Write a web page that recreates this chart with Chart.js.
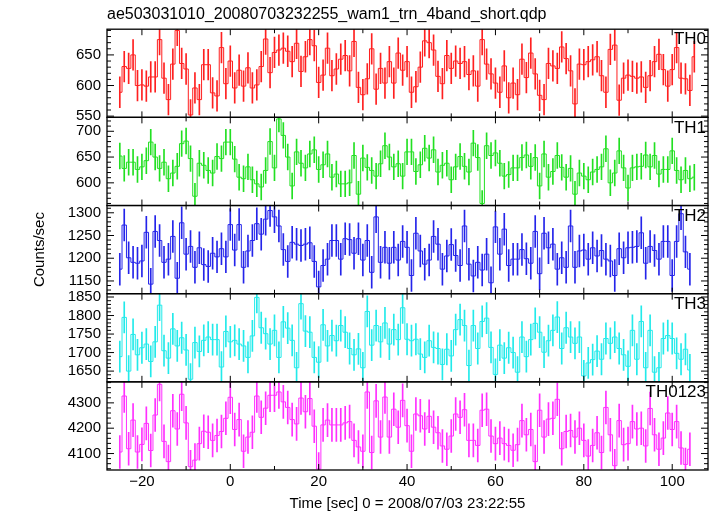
<!DOCTYPE html>
<html>
<head>
<meta charset="utf-8">
<script src="https://cdn.jsdelivr.net/npm/chart.js@4.4.0/dist/chart.umd.min.js"></script>
<style>
  html, body { margin: 0; padding: 0; background: #fff; }
</style>
</head>
<body>
<canvas id="lc" width="717" height="516"></canvas>
<script>
// WAM light curve, 1 s bins, first bin centre at -25 s
var timeStart = -25;
var binSize = 1;

var rateTH0 = [589,631,628,650,600,601,599,614,614,675,612,577,635,690,636,627,552,596,577,634,
  634,588,583,662,603,640,596,625,599,629,596,601,631,676,621,654,658,661,656,639,
  669,623,647,675,665,605,617,661,616,627,643,649,624,672,597,585,611,660,594,628,
  604,639,604,653,625,639,
  589,598,630,673,670,658,615,603,649,628,640,636,639,618,624,599,675,635,619,604,
  589,632,580,604,585,643,613,653,619,584,577,636,632,628,663,644,624,570,635,634,
  639,642,647,616,589,659,666,576,612,617,615,612,614,597,616,639,651,626,599,626,
  662,612,611,592,647];

var rateTH1 = [652,628,640,640,626,631,643,679,650,628,640,608,619,632,676,681,647,574,638,634,
  624,619,651,647,679,679,646,611,608,631,606,598,592,624,680,629,724,692,650,594,
  660,638,629,656,664,626,635,656,611,617,598,598,600,653,578,648,630,624,613,637,
  672,650,631,637,613,660,
  660,622,635,667,648,664,621,634,638,606,631,651,632,621,677,649,560,672,653,658,
  638,613,616,629,629,649,654,632,649,594,656,611,622,653,630,611,628,578,619,613,
  606,621,626,631,666,600,619,662,629,590,629,631,632,654,631,653,617,626,626,662,
  624,606,624,608,611];

var rateTH2 = [1176,1273,1201,1191,1189,1194,1257,1143,1259,1239,1191,1198,1248,1156,1278,1209,1226,1180,1223,1186,
  1182,1211,1203,1221,1203,1274,1218,1274,1180,1216,1239,1276,1253,1286,1305,1291,1271,1219,1193,1235,
  1231,1228,1231,1234,1193,1137,1184,1198,1239,1239,1198,1243,1241,1211,1243,1196,1239,1169,1291,1191,
  1224,1189,1224,1196,1237,1224,
  1162,1255,1216,1187,1196,1248,1231,1176,1205,1230,1206,1184,1271,1187,1161,1191,1174,1209,1146,1269,
  1209,1264,1184,1198,1198,1219,1199,1189,1259,1166,1255,1223,1231,1176,1201,1180,1271,1180,1216,1218,
  1198,1223,1205,1217,1198,1194,1162,1221,1201,1223,1224,1226,1256,1189,1226,1217,1198,1237,1237,1162,
  1237,1298,1214,1176];

var rateTH3 = [1689,1795,1650,1749,1694,1713,1723,1676,1729,1828,1705,1685,1764,1718,1740,1707,1628,1727,1703,1733,
  1742,1735,1735,1661,1757,1729,1733,1723,1718,1687,1745,1849,1767,1751,1723,1760,1687,1783,1766,1733,
  1659,1832,1758,1755,1687,1674,1775,1718,1746,1732,1773,1755,1711,1694,1710,1659,1811,1720,1773,1729,
  1780,1723,1762,1735,1821,1736,
  1732,1736,1696,1687,1732,1714,1711,1668,1709,1691,1762,1789,1773,1665,1773,1711,1784,1793,1714,1641,
  1720,1685,1713,1700,1647,1742,1689,1735,1779,1755,1701,1732,1760,1796,1711,1767,1742,1725,1742,1637,
  1672,1681,1704,1682,1738,1725,1742,1711,1694,1663,1760,1682,1784,1659,1760,1647,1659,1738,1746,1738,
  1698,1682,1709,1653];

var rateTH0123 = [4106,4327,4119,4232,4106,4136,4219,4112,4252,4373,4148,4068,4269,4197,4334,4221,4048,4074,4139,4188,
  4184,4152,4171,4187,4239,4322,4195,4234,4109,4165,4184,4327,4243,4279,4330,4330,4343,4304,4282,4234,
  4217,4319,4265,4317,4208,4039,4213,4232,4213,4213,4213,4221,4226,4152,4126,4109,4343,4104,4308,4165,
  4323,4165,4275,4204,4310,4210,
  4109,4256,4249,4197,4247,4204,4182,4130,4117,4169,4256,4243,4273,4152,4152,4132,4271,4275,4169,4139,
  4161,4139,4132,4113,4135,4230,4174,4195,4068,4271,4165,4236,4239,4314,4119,4187,4191,4165,4200,4152,
  4090,4132,4182,4104,4282,4174,4052,4230,4135,4139,4226,4197,4200,4130,4278,4174,4117,4161,4260,4195,
  4226,4122,4057,4117];

// half length of the error bars
var errTH0 = 25, errTH1 = 25, errTH2 = 35, errTH3 = 42, errTH0123 = 65;

var bandNames = ['TH0', 'TH1', 'TH2', 'TH3', 'TH0123'];
var yTicksMajor = [50, 50, 50, 50, 100];
var yTicksMinor = [10, 10, 10, 10, 20];

var font = '"Liberation Sans", Arial, Helvetica, sans-serif';

var bands = [
  {name: bandNames[0], axis: 'y0', rate: rateTH0,    err: errTH0,    color: '#ff2020', min: 548,  max: 692},
  {name: bandNames[1], axis: 'y1', rate: rateTH1,    err: errTH1,    color: '#22e022', min: 556,  max: 727},
  {name: bandNames[2], axis: 'y2', rate: rateTH2,    err: errTH2,    color: '#2424ea', min: 1122, max: 1316},
  {name: bandNames[3], axis: 'y3', rate: rateTH3,    err: errTH3,    color: '#22eaea', min: 1621, max: 1859},
  {name: bandNames[4], axis: 'y4', rate: rateTH0123, err: errTH0123, color: '#ff30ff', min: 4035, max: 4383}
];

function points(rate) {
  return rate.map(function (v, i) { return {x: timeStart + i * binSize, y: v}; });
}

var datasets = [];
bands.forEach(function (b) {
  var pts = points(b.rate);
  datasets.push({
    type: 'bar',
    yAxisID: b.axis,
    data: pts.map(function (p) { return {x: p.x, y: [p.y - b.err, p.y + b.err]}; }),
    backgroundColor: b.color,
    borderWidth: 0,
    barThickness: 1,
    grouped: false
  });
  datasets.push({
    type: 'line',
    yAxisID: b.axis,
    data: pts,
    stepped: 'middle',
    borderColor: b.color,
    borderWidth: 1,
    pointRadius: 0,
    fill: false
  });
});

function tickText(v) {
  return v < 0 ? '\u2212' + Math.abs(v) : String(v);
}

var scales = {
  x: {
    type: 'linear',
    position: 'bottom',
    offset: false,
    min: -27.9,
    max: 108.1,
    grid: {display: false, drawTicks: false},
    border: {display: false},
    ticks: {stepSize: 20, includeBounds: false, padding: 3, maxRotation: 0, color: '#000',
            font: {family: font, size: 15}, callback: tickText},
    title: {display: true, text: 'Time [sec] 0 = 2008/07/03 23:22:55', color: '#000',
            font: {family: font, size: 15}, padding: {top: 1, bottom: 3}}
  }
};

bands.forEach(function (b, k) {
  scales[b.axis] = {
    type: 'linear',
    position: 'left',
    stack: 'lc',
    stackWeight: 1,
    weight: bands.length - k,
    min: b.min,
    max: b.max,
    grid: {display: false, drawTicks: false},
    border: {display: false},
    ticks: {stepSize: yTicksMajor[k], includeBounds: false, autoSkip: false, padding: 6, color: '#000',
            font: {family: font, size: 15}, callback: tickText},
    title: {display: k === 2, text: 'Counts/sec', color: '#000',
            font: {family: font, size: 15}, padding: {top: 31, bottom: 0}},
    afterFit: function (scale) { scale.width = 107; }
  };
});

var qdpFrame = {
  id: 'qdpFrame',
  afterDraw: function (chart) {
    var ctx = chart.ctx;
    var xs = chart.scales.x;
    ctx.save();
    bands.forEach(function (b, k) {
      var ys = chart.scales[b.axis];
      var major = yTicksMajor[k], minor = yTicksMinor[k];
      var i, v, p, len;
      ctx.strokeStyle = '#000';
      ctx.lineWidth = 1;
      ctx.beginPath();
      for (i = Math.ceil(ys.min / minor); i * minor <= ys.max; i++) {
        v = i * minor;
        p = ys.getPixelForValue(v);
        len = (v % major === 0) ? 7 : 4;
        ctx.moveTo(xs.left, p); ctx.lineTo(xs.left + len, p);
        ctx.moveTo(xs.right, p); ctx.lineTo(xs.right - len, p);
      }
      for (i = Math.ceil(xs.min / 10); i * 10 <= xs.max; i++) {
        v = i * 10;
        p = xs.getPixelForValue(v);
        len = (v % 20 === 0) ? 6 : 4;
        ctx.moveTo(p, ys.top); ctx.lineTo(p, ys.top + len);
        ctx.moveTo(p, ys.bottom); ctx.lineTo(p, ys.bottom - len);
      }
      ctx.stroke();
      ctx.lineWidth = 1.3;
      ctx.strokeRect(xs.left, ys.top, xs.right - xs.left, ys.bottom - ys.top);
      ctx.fillStyle = '#000';
      ctx.font = '17px ' + font;
      ctx.textAlign = 'right';
      ctx.textBaseline = 'top';
      ctx.fillText(b.name, xs.right - 2, ys.top + 2);
    });
    ctx.restore();
  }
};

new Chart(document.getElementById('lc').getContext('2d'), {
  type: 'line',
  data: {datasets: datasets},
  options: {
    responsive: false,
    animation: false,
    devicePixelRatio: 1,
    layout: {padding: {left: 0, right: 9, top: 0, bottom: 0}},
    scales: scales,
    plugins: {
      legend: {display: false},
      tooltip: {enabled: false},
      title: {display: true, text: 'ae503031010_20080703232255_wam1_trn_4band_short.qdp',
              align: 'start', fullSize: false, color: '#000',
              font: {family: font, size: 16, weight: 'normal'}, padding: {top: 5, bottom: 5}}
    }
  },
  plugins: [qdpFrame]
});
</script>
</body>
</html>
